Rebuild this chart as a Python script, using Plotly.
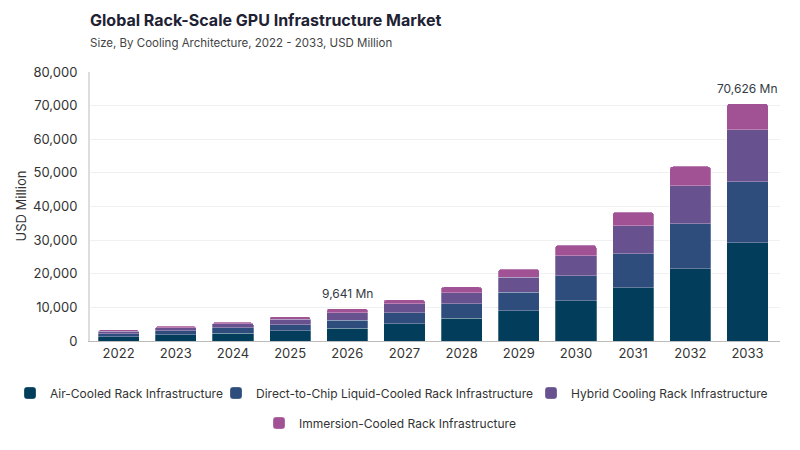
import plotly.graph_objects as go

years = ["2022", "2023", "2024", "2025", "2026", "2027", "2028", "2029", "2030", "2031", "2032", "2033"]
air_cooled = [1300, 1790, 2290, 2980, 3780, 5060, 6760, 8930, 11900, 15770, 21550, 29200]
direct_to_chip = [800, 1190, 1580, 1780, 2380, 3360, 4250, 5560, 7450, 10120, 13270, 18100]
hybrid = [800, 1010, 1190, 1700, 2170, 2680, 3280, 4470, 5950, 8340, 11310, 15500]
immersion = [450, 470, 510, 800, 1311, 1220, 1780, 2380, 3180, 4070, 5770, 7826]
series_names = [
    "Air-Cooled Rack Infrastructure",
    "Direct-to-Chip Liquid-Cooled Rack Infrastructure",
    "Hybrid Cooling Rack Infrastructure",
    "Immersion-Cooled Rack Infrastructure",
]
colors = ["#023d5b", "#2e4c7c", "#67528f", "#a05294"]
y_ticks = [0, 10000, 20000, 30000, 40000, 50000, 60000, 70000, 80000]
callouts = {"2026": "9,641 Mn", "2033": "70,626 Mn"}

font = "Inter, Roboto, sans-serif"
legend_ids = ["legend", "legend2", "legend3", "legend4"]
# legend box placement in page pixels (left x, centre y)
legend_pos = [(10, 393), (216, 393), (531, 393), (259, 423)]

fig = go.Figure()

for i, (name, vals) in enumerate(zip(series_names, [air_cooled, direct_to_chip, hybrid, immersion])):
    fig.add_trace(go.Bar(
        x=years, y=vals, name=name,
        marker=dict(color=colors[i], line=dict(color="rgba(255,255,255,0.45)", width=0.6)),
        legend=legend_ids[i],
        hovertemplate="%{x}: %{y:,} Mn<extra>" + name + "</extra>",
    ))

totals = [a + b + c + d for a, b, c, d in zip(air_cooled, direct_to_chip, hybrid, immersion)]
for yr, label in callouts.items():
    idx = years.index(yr)
    fig.add_annotation(x=idx, y=totals[idx], text=label, showarrow=False,
                       yanchor="bottom", yshift=6,
                       font=dict(family=font, size=12, color="#333a45"))

# y axis title placed by hand so the plot area keeps its left edge
fig.add_annotation(text="USD Million", textangle=-90, xref="paper", yref="paper",
                   x=-70 / 690, y=0.5, xanchor="center", yanchor="middle", showarrow=False,
                   font=dict(family=font, size=13, color="#333"))

layout_legends = {}
for lid, (px_x, px_y) in zip(legend_ids, legend_pos):
    layout_legends[lid] = dict(
        orientation="h", xref="container", x=px_x / 800, xanchor="left",
        yref="container", y=1 - px_y / 450, yanchor="middle",
        bgcolor="rgba(0,0,0,0)",
        font=dict(family=font, size=12, color="#333"), itemwidth=30,
    )

fig.update_layout(
    width=800, height=450, showlegend=True,
    barmode="stack", bargap=0.28, barcornerradius=3,
    plot_bgcolor="white", paper_bgcolor="white",
    margin=dict(l=90, r=20, t=72, b=109),
    font=dict(family=font, size=12, color="#333"),
    title=dict(
        text="<b>Global Rack-Scale GPU Infrastructure Market</b><br>"
             "<span style='font-size:11.5px;color:#444'>Size, By Cooling Architecture, 2022 - 2033, USD Million</span>",
        x=90 / 800, xanchor="left", y=0.942, yanchor="top",
        font=dict(family=font, size=16, color="#1e2233"),
    ),
    xaxis=dict(type="category", showgrid=False, showline=True, linecolor="#bbb", linewidth=1,
               tickfont=dict(size=13, color="#333"), ticks=""),
    yaxis=dict(range=[0, 80000], tickvals=y_ticks, tickformat=",", automargin=False,
               showgrid=True, gridcolor="#f0f0f0", showline=True, linecolor="#ddd", linewidth=2,
               zeroline=False, ticks="outside", ticklen=8, tickcolor="white",
               tickfont=dict(size=13, color="#333")),
    **layout_legends,
)

fig.write_html("out.html", config={"displayModeBar": False},
               post_script="document.body.style.margin = '0';")
